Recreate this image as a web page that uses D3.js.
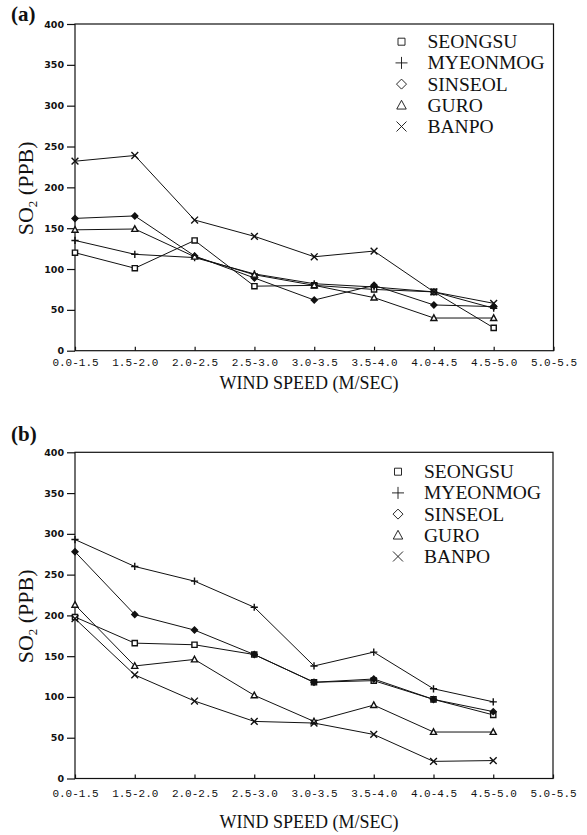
<!DOCTYPE html>
<html>
<head>
<meta charset="utf-8">
<script src="https://cdn.jsdelivr.net/npm/d3@7"></script>
<style>
  body { margin: 0; background: #fff; }
</style>
</head>
<body>
<div id="chart"></div>
<script>
// wind speed classes (last one has no data)
const categories = ["0.0-1.5", "1.5-2.0", "2.0-2.5", "2.5-3.0", "3.0-3.5",
                    "3.5-4.0", "4.0-4.5", "4.5-5.0", "5.0-5.5"];
const yTicks = [0, 50, 100, 150, 200, 250, 300, 350, 400];
const stations = ["SEONGSU", "MYEONMOG", "SINSEOL", "GURO", "BANPO"];

// panel (a) SO2 in ppb
const seongsuA  = [120, 101, 135, 79, 80, 75, 72, 28];
const myeonmogA = [135, 118, 114, 94, 82, 78, 72, 52];
const sinseolA  = [162, 165, 116, 89, 62, 80, 56, 54];
const guroA     = [148, 149, 115, 93, 80, 65, 40, 40];
const banpoA    = [232, 239, 160, 140, 115, 122, 72, 58];

// panel (b) SO2 in ppb
const seongsuB  = [198, 166, 164, 152, 118, 120, 97, 78];
const myeonmogB = [293, 260, 242, 210, 138, 155, 110, 94];
const sinseolB  = [278, 201, 182, 152, 118, 122, 97, 82];
const guroB     = [213, 138, 146, 102, 70, 90, 57, 57];
const banpoB    = [196, 127, 95, 70, 68, 54, 21, 22];

const svg = d3.select("#chart")
    .append("svg")
    .attr("width", 587)
    .attr("height", 835);

// marker outlines, r = half size
function marker(type, r) {
    if (type === 0) return `M${-r},${-r}h${2*r}v${2*r}h${-2*r}Z`;
    if (type === 1) return `M${-r},0H${r}M0,${-r}V${r}`;
    if (type === 2) return `M0,${-r}L${r},0L0,${r}L${-r},0Z`;
    if (type === 3) return `M0,${-r}L${r*0.95},${r*0.75}L${-r*0.95},${r*0.75}Z`;
    return `M${-r},${-r}L${r},${r}M${-r},${r}L${r},${-r}`;
}
const plotR = [2.6, 3.6, 3, 3.2, 3.4];
const legendR = [3.5, 6, 5, 5, 5];

function drawPanel(p) {
    const x = d3.scalePoint()
        .domain(categories)
        .range([p.left, p.right]);

    const y = d3.scaleLinear()
        .domain([0, 400])
        .range([p.bottom, p.top]);

    const g = svg.append("g");

    // frame
    g.append("rect")
        .attr("x", p.left)
        .attr("y", p.top)
        .attr("width", p.right - p.left)
        .attr("height", p.bottom - p.top)
        .attr("fill", "none")
        .attr("stroke", "#111")
        .attr("stroke-width", 1.2);

    // y axis, ticks outward
    const yAxis = g.append("g")
        .attr("transform", `translate(${p.left},0)`)
        .call(d3.axisLeft(y).tickValues(yTicks).tickSize(8).tickPadding(3));
    yAxis.select(".domain").remove();
    yAxis.selectAll("line").attr("stroke", "#111").attr("stroke-width", 1.2);
    yAxis.selectAll("text")
        .style("font-family", "DejaVu Sans")
        .style("font-weight", "bold")
        .style("font-size", "9.5px")
        .attr("fill", "#111");

    // x axis, small ticks pointing inside
    const xAxis = g.append("g")
        .attr("transform", `translate(0,${p.bottom})`)
        .call(d3.axisBottom(x).tickSize(-4).tickPadding(p.xPad));
    xAxis.select(".domain").remove();
    xAxis.selectAll("line").attr("stroke", "#111").attr("stroke-width", 1.2);
    xAxis.selectAll("text")
        .style("font-family", "Liberation Mono")
        .style("font-size", "11px")
        .attr("fill", "#111");

    // lines and markers
    const line = d3.line()
        .x((d, i) => x(categories[i]))
        .y(d => y(d));

    p.series.forEach((vals, k) => {
        g.append("path")
            .datum(vals)
            .attr("fill", "none")
            .attr("stroke", "#111")
            .attr("stroke-width", 1)
            .attr("d", line);

        g.selectAll(null)
            .data(vals)
            .enter()
            .append("path")
            .attr("transform", (d, i) => `translate(${x(categories[i])},${y(d)})`)
            .attr("d", marker(k, plotR[k]))
            .attr("fill", k === 2 ? "#111" : (k === 0 || k === 3 ? "#fff" : "none"))
            .attr("stroke", "#111")
            .attr("stroke-width", 1.4);
    });

    // legend
    const leg = g.append("g");
    stations.forEach((name, k) => {
        const ly = p.legendY + k * 21.2;
        leg.append("path")
            .attr("transform", `translate(${p.legendX},${ly})`)
            .attr("d", marker(k, legendR[k]))
            .attr("fill", "none")
            .attr("stroke", "#111")
            .attr("stroke-width", 0.9);
        leg.append("text")
            .attr("x", p.legendX + 26)
            .attr("y", ly + 6.5)
            .style("font-family", "Liberation Serif")
            .style("font-size", "19.5px")
            .attr("fill", "#111")
            .text(name);
    });

    // panel letter
    g.append("text")
        .attr("x", 11)
        .attr("y", p.letterY)
        .style("font-family", "Liberation Serif")
        .style("font-weight", "bold")
        .style("font-size", "21px")
        .attr("fill", "#111")
        .text(p.letter);

    // y title
    const yt = g.append("text")
        .attr("transform", `translate(33,${(p.top + p.bottom) / 2 + 1}) rotate(-90)`)
        .attr("text-anchor", "middle")
        .style("font-family", "Liberation Serif")
        .style("font-size", "22px")
        .attr("fill", "#111");
    yt.append("tspan").text("SO");
    yt.append("tspan").attr("dy", 4).style("font-size", "13px").text("2");
    yt.append("tspan").attr("dy", -4).text(" (PPB)");

    // x title
    g.append("text")
        .attr("x", 309)
        .attr("y", p.xTitleY)
        .attr("text-anchor", "middle")
        .style("font-family", "Liberation Serif")
        .style("font-size", "18px")
        .attr("fill", "#111")
        .text("WIND SPEED (M/SEC)");
}

drawPanel({
    letter: "(a)", letterY: 21,
    left: 75, right: 553.5, top: 24, bottom: 350.7,
    xPad: 8, xTitleY: 389,
    legendX: 401.5, legendY: 41.7,
    series: [seongsuA, myeonmogA, sinseolA, guroA, banpoA]
});

drawPanel({
    letter: "(b)", letterY: 441,
    left: 75, right: 553, top: 452.3, bottom: 778.5,
    xPad: 11, xTitleY: 828,
    legendX: 398, legendY: 471.7,
    series: [seongsuB, myeonmogB, sinseolB, guroB, banpoB]
});
</script>
</body>
</html>
